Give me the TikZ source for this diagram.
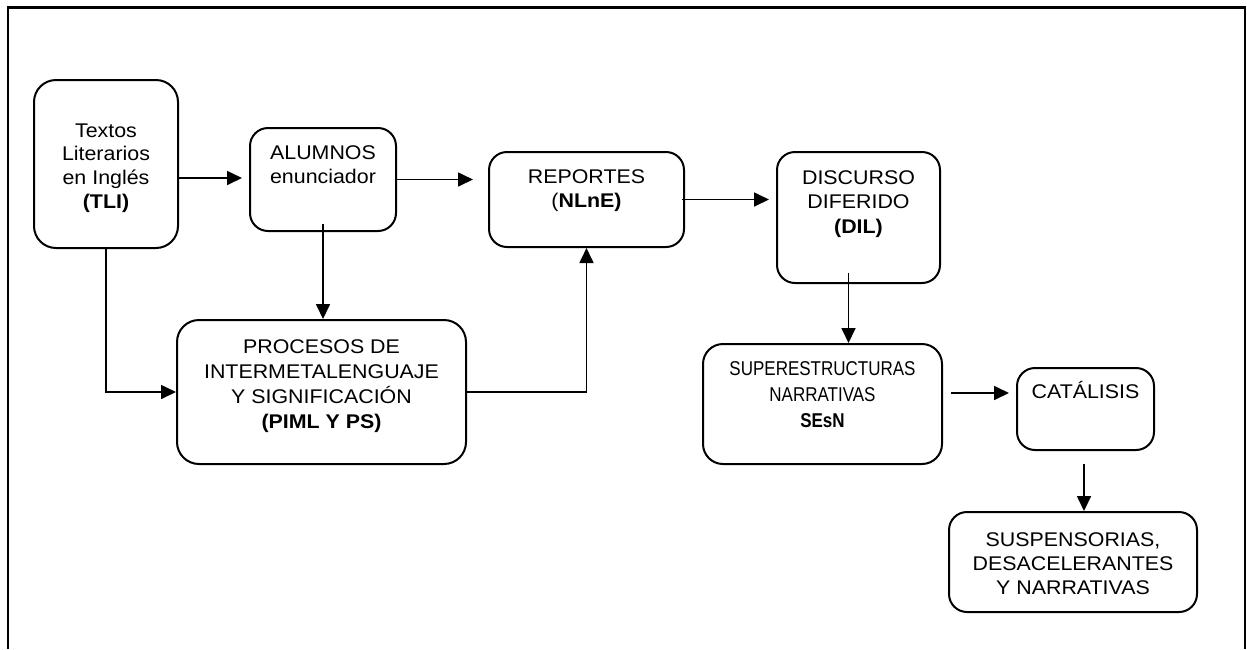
\documentclass[tikz,border=0pt]{standalone}
\usepackage{fontspec}
\setmainfont{Liberation Sans}[FakeStretch=1.08]
\newfontfamily\narrowfont{Liberation Sans}[FakeStretch=0.85]
\usetikzlibrary{arrows.meta}

\begin{document}
\begin{tikzpicture}[x=1pt,y=-1pt,
  box/.style={draw, line width=2pt, rounded corners=18pt, inner sep=0pt},
  lbl/.style={anchor=north, inner sep=0pt, align=center,
              font=\fontsize{19.8}{24.5}\selectfont},
  link/.style={line width=1.7pt, -{Triangle[length=15pt,width=14pt]}},
]
\useasboundingbox (0,0) rectangle (1247,649);

% outer frame (open at the bottom)
\draw[line width=2.2pt] (8,649) -- (8,7.5) -- (1245,7.5) -- (1245,649);

% boxes
\node[box, rounded corners=22pt, minimum width=144pt, minimum height=168pt] (tli) at (106,164) {};
\node[box, minimum width=146pt, minimum height=103pt] (alu) at (323,179.5) {};
\node[box, minimum width=195pt, minimum height=95pt] (rep) at (586.5,199.5) {};
\node[box, minimum width=163pt, minimum height=131pt] (dis) at (858.5,217.5) {};
\node[box, rounded corners=22pt, minimum width=289pt, minimum height=144pt] (piml) at (321.5,392) {};
\node[box, rounded corners=20pt, minimum width=239pt, minimum height=120pt] (sup) at (822.5,404) {};
\node[box, minimum width=137pt, minimum height=82pt] (cat) at (1085.5,409) {};
\node[box, minimum width=248pt, minimum height=100pt] (sus) at (1073,562) {};

% box texts
\node[lbl, font=\fontsize{19.8}{23.7}\selectfont] (tlit) at ([yshift=-39pt]tli.north)
  {\rule{0pt}{19pt}Textos\\Literarios\\en Inglés\\\textbf{(TLI)}};
\node[lbl] (alut) at ([yshift=-13pt]alu.north)
  {\rule{0pt}{19pt}ALUMNOS\\enunciador};
\node[lbl] (rept) at ([yshift=-13pt]rep.north)
  {\rule{0pt}{19pt}REPORTES\\(\textbf{NLnE)}};
\node[lbl] (dist) at ([yshift=-14pt]dis.north)
  {\rule{0pt}{19pt}DISCURSO\\DIFERIDO\\\textbf{(DIL)}};
\node[lbl, font=\fontsize{19.8}{25}\selectfont] (pimlt) at ([yshift=-15pt]piml.north)
  {\rule{0pt}{19pt}PROCESOS DE\\INTERMETALENGUAJE\\Y SIGNIFICACIÓN\\\textbf{(PIML Y PS)}};
\node[lbl, font=\narrowfont\fontsize{20}{26}\selectfont] (supt) at ([yshift=-13pt]sup.north)
  {\rule{0pt}{19pt}SUPERESTRUCTURAS\\NARRATIVAS\\\textbf{SEsN}};
\node[lbl] (catt) at ([yshift=-12pt]cat.north)
  {\rule{0pt}{19pt}CATÁLISIS};
\node[lbl, font=\fontsize{19.8}{24}\selectfont] (sust) at ([yshift=-16pt]sus.north)
  {\rule{0pt}{19pt}SUSPENSORIAS,\\DESACELERANTES\\Y NARRATIVAS};

% connectors
\draw[link, shorten >=7pt] (tli.east |- 0,178) -- (alu.west |- 0,178);
\draw[link, shorten >=15pt] ([xshift=-2pt]alu.east) -- (alu.east -| rep.west);
\draw[link, shorten >=7pt] ([xshift=-3pt]rep.east) -- (rep.east -| dis.west);

\coordinate (d1) at ([xshift=-10pt,yshift=11pt]dis.south);
\draw[link] (d1) -- (d1 |- sup.north);

\coordinate (s1) at ([xshift=8pt,yshift=11pt]sup.east);
\draw[link, shorten >=7pt] (s1) -- (s1 -| cat.west);

\coordinate (c1) at ([xshift=-1.5pt,yshift=-13pt]cat.south);
\draw[link] (c1) -- (c1 |- sus.north);

\draw[link] (tli.south) -- (tli.south |- piml.west) -- (piml.west);
\draw[link] ([yshift=8pt]alu.south) -- (alu.south |- piml.north);
\draw[link] (piml.east) -- (piml.east -| rep.south) -- (rep.south);

\end{tikzpicture}
\end{document}
